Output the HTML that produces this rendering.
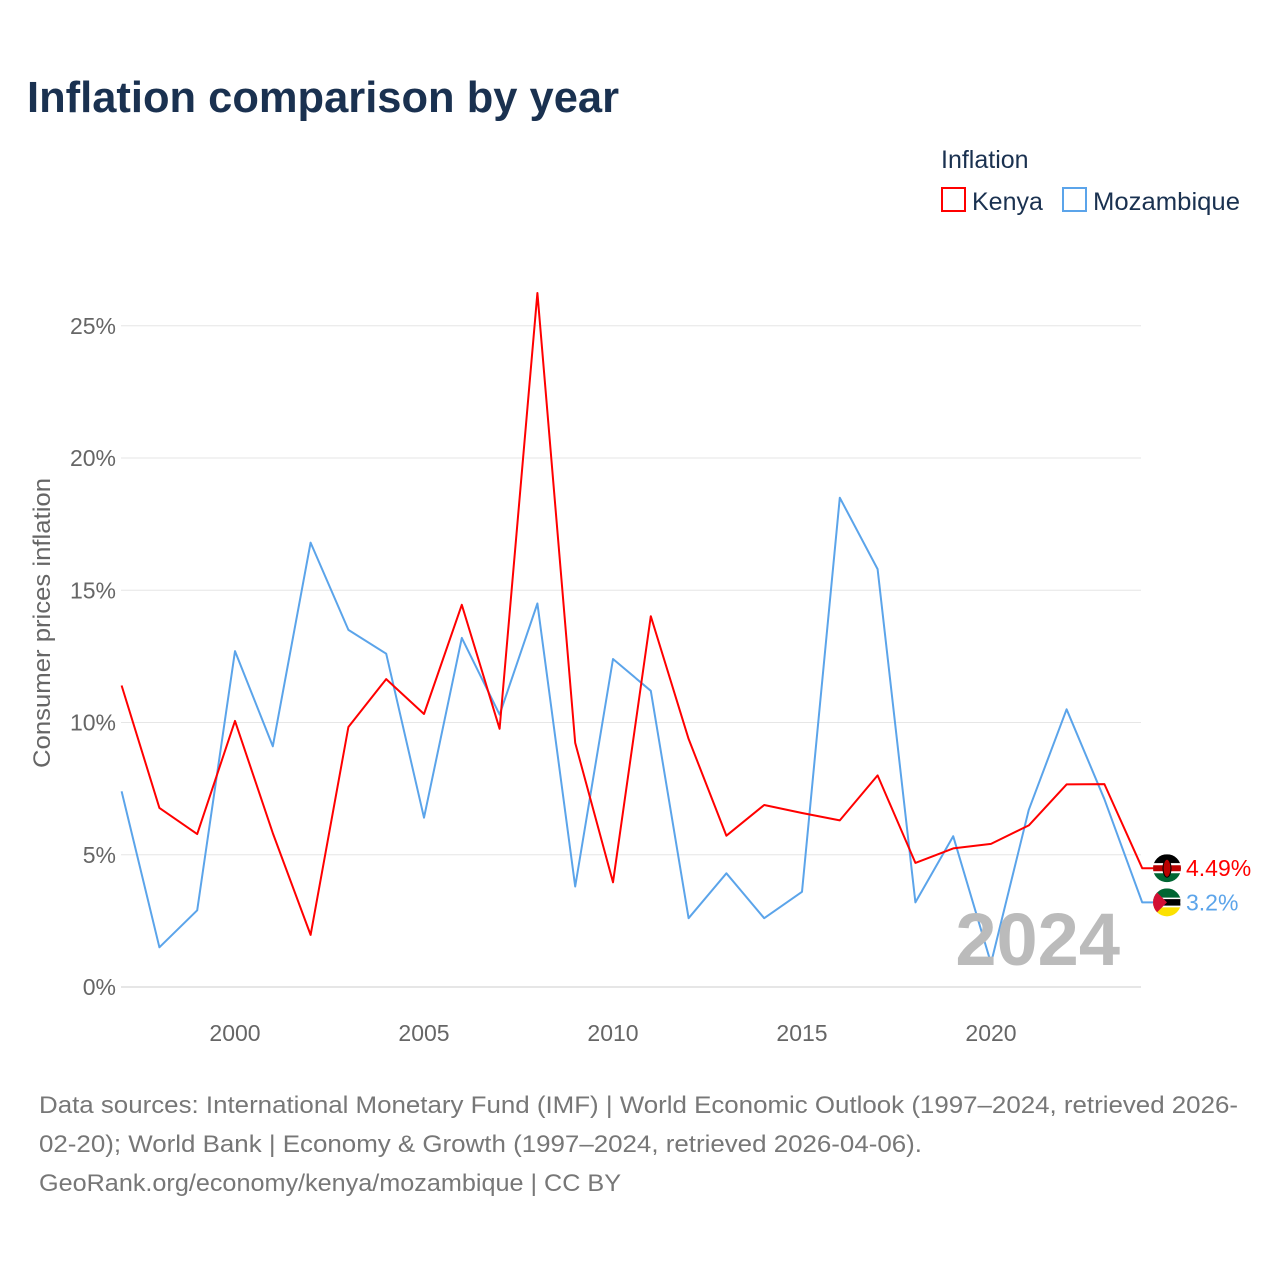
<!DOCTYPE html>
<html><head><meta charset="utf-8"><style>
body{margin:0;background:#fff;font-family:"Liberation Sans",sans-serif;}
svg text{font-family:"Liberation Sans",sans-serif;}
</style></head><body>
<svg id="chart" width="1280" height="1280" viewBox="0 0 1280 1280" xmlns="http://www.w3.org/2000/svg">
<defs>
<clipPath id="ck"><circle id="ckc" cx="1167" cy="0" r="14"/></clipPath>
<clipPath id="cm"><circle id="cmc" cx="1167" cy="0" r="14"/></clipPath>
</defs>
<rect width="1280" height="1280" fill="#fff"/>
<text x="27" y="112" font-size="44" font-weight="bold" fill="#1a3150" textLength="592" lengthAdjust="spacingAndGlyphs">Inflation comparison by year</text>
<text x="941" y="168" font-size="25" fill="#1a3150">Inflation</text>
<g><rect x="942" y="188" width="23" height="23" fill="none" stroke="#ff0000" stroke-width="2"/><text x="972" y="210" font-size="25" fill="#1a3150">Kenya</text></g>
<g><rect x="1063" y="188" width="23" height="23" fill="none" stroke="#5ba4ea" stroke-width="2"/><text x="1093" y="210" font-size="25" fill="#1a3150" textLength="147" lengthAdjust="spacingAndGlyphs">Mozambique</text></g>
<text transform="translate(50,623) rotate(-90)" text-anchor="middle" font-size="24" fill="#666" textLength="290" lengthAdjust="spacingAndGlyphs">Consumer prices inflation</text>
<g id="grid"></g><g id="xticks"></g><g id="series"></g>
<text x="1120" y="965" text-anchor="end" font-size="74" font-weight="bold" fill="#bbb">2024</text>
<g id="endlabels"></g>
<text font-size="24" fill="#777"><tspan x="39" y="1113" textLength="1199" lengthAdjust="spacingAndGlyphs">Data sources: International Monetary Fund (IMF) | World Economic Outlook (1997–2024, retrieved 2026-</tspan><tspan x="39" y="1152" textLength="883" lengthAdjust="spacingAndGlyphs">02-20); World Bank | Economy &amp; Growth (1997–2024, retrieved 2026-04-06).</tspan><tspan x="39" y="1191" textLength="582" lengthAdjust="spacingAndGlyphs">GeoRank.org/economy/kenya/mozambique | CC BY</tspan></text>
</svg>
<script>
const years=[1997,1998,1999,2000,2001,2002,2003,2004,2005,2006,2007,2008,2009,2010,2011,2012,2013,2014,2015,2016,2017,2018,2019,2020,2021,2022,2023,2024];
const kenya=[11.4,6.77,5.78,10.06,5.82,1.97,9.83,11.64,10.32,14.45,9.76,26.24,9.23,3.96,14.02,9.38,5.72,6.88,6.58,6.3,8.0,4.69,5.24,5.41,6.11,7.66,7.67,4.49];
const mozambique=[7.4,1.5,2.9,12.7,9.1,16.8,13.5,12.6,6.4,13.2,10.3,14.5,3.8,12.4,11.2,2.6,4.3,2.6,3.6,18.5,15.8,3.2,5.7,0.9,6.7,10.5,7.1,3.2];
const yTicks=[0,5,10,15,20,25];
const xTicks=[2000,2005,2010,2015,2020];
const NS="http://www.w3.org/2000/svg";
const X=y=>121.6+(y-1997)*37.8;
const Y=v=>987-v*26.45;
function mk(t,a,p){const e=document.createElementNS(NS,t);for(const k in a)e.setAttribute(k,a[k]);p.appendChild(e);return e;}
const grid=document.getElementById('grid');
yTicks.forEach(v=>{
 const l=mk('line',{x1:121,x2:1141,y1:Y(v),y2:Y(v),stroke:v===0?'#ccc':'#e6e6e6','stroke-width':1},grid);
 
 
 const t=mk('text',{x:116,y:Y(v)+8,'text-anchor':'end','font-size':23,fill:'#666'},grid);
 t.textContent=v+'%';
 
 
});
const xt=document.getElementById('xticks');
xTicks.forEach(y=>{
 const t=mk('text',{x:X(y),y:1041,'text-anchor':'middle','font-size':23,fill:'#666'},xt);
 t.textContent=y;
 
 
});
const s=document.getElementById('series');
function line(vals,col,name){
 const d=vals.map((v,i)=>(i?'L':'M')+X(years[i]).toFixed(1)+','+Y(v).toFixed(1)).join('')+'L1155,'+Y(vals[vals.length-1]).toFixed(1);
 const p=mk('path',{d:d,fill:'none',stroke:col,'stroke-width':2,'stroke-linejoin':'round'},s);
 
 
}
line(mozambique,'#5ba4ea','mozambique-line');
line(kenya,'#ff0000','kenya-line');
const el=document.getElementById('endlabels');
function endl(v,col,name,clip,flag){
 const y=Y(v);
 document.getElementById(clip+'c').setAttribute('cy',y);
 const g=mk('g',{},el);
 
 
 const fg=mk('g',{'clip-path':'url(#'+clip+')'},g);
 flag(fg,y);
 const t=mk('text',{x:1186,y:y+8,'font-size':23,fill:col},g);
 t.textContent=v+'%';
}
endl(kenya[kenya.length-1],'#ff0000','kenya-end-label','ck',(g,y)=>{
 mk('rect',{x:1153,y:y-14,width:28,height:9,fill:'#000'},g);
 mk('rect',{x:1153,y:y-5,width:28,height:10,fill:'#fff'},g);
 mk('rect',{x:1153,y:y-3,width:28,height:6,fill:'#b00'},g);
 mk('rect',{x:1153,y:y+5,width:28,height:9,fill:'#063'},g);
 mk('ellipse',{cx:1167,cy:y,rx:4,ry:9,fill:'#b00',stroke:'#000','stroke-width':1},g);
});
endl(mozambique[mozambique.length-1],'#5ba4ea','mozambique-end-label','cm',(g,y)=>{
 mk('rect',{x:1153,y:y-14,width:28,height:10,fill:'#063'},g);
 mk('rect',{x:1153,y:y-4,width:28,height:8,fill:'#000',stroke:'#fff','stroke-width':1.5},g);
 mk('rect',{x:1153,y:y+5,width:28,height:10,fill:'#fce100'},g);
 mk('path',{d:`M1153,${y-14}L1167,${y}L1153,${y+14}z`,fill:'#d21034'},g);
});
</script>
</body></html>
